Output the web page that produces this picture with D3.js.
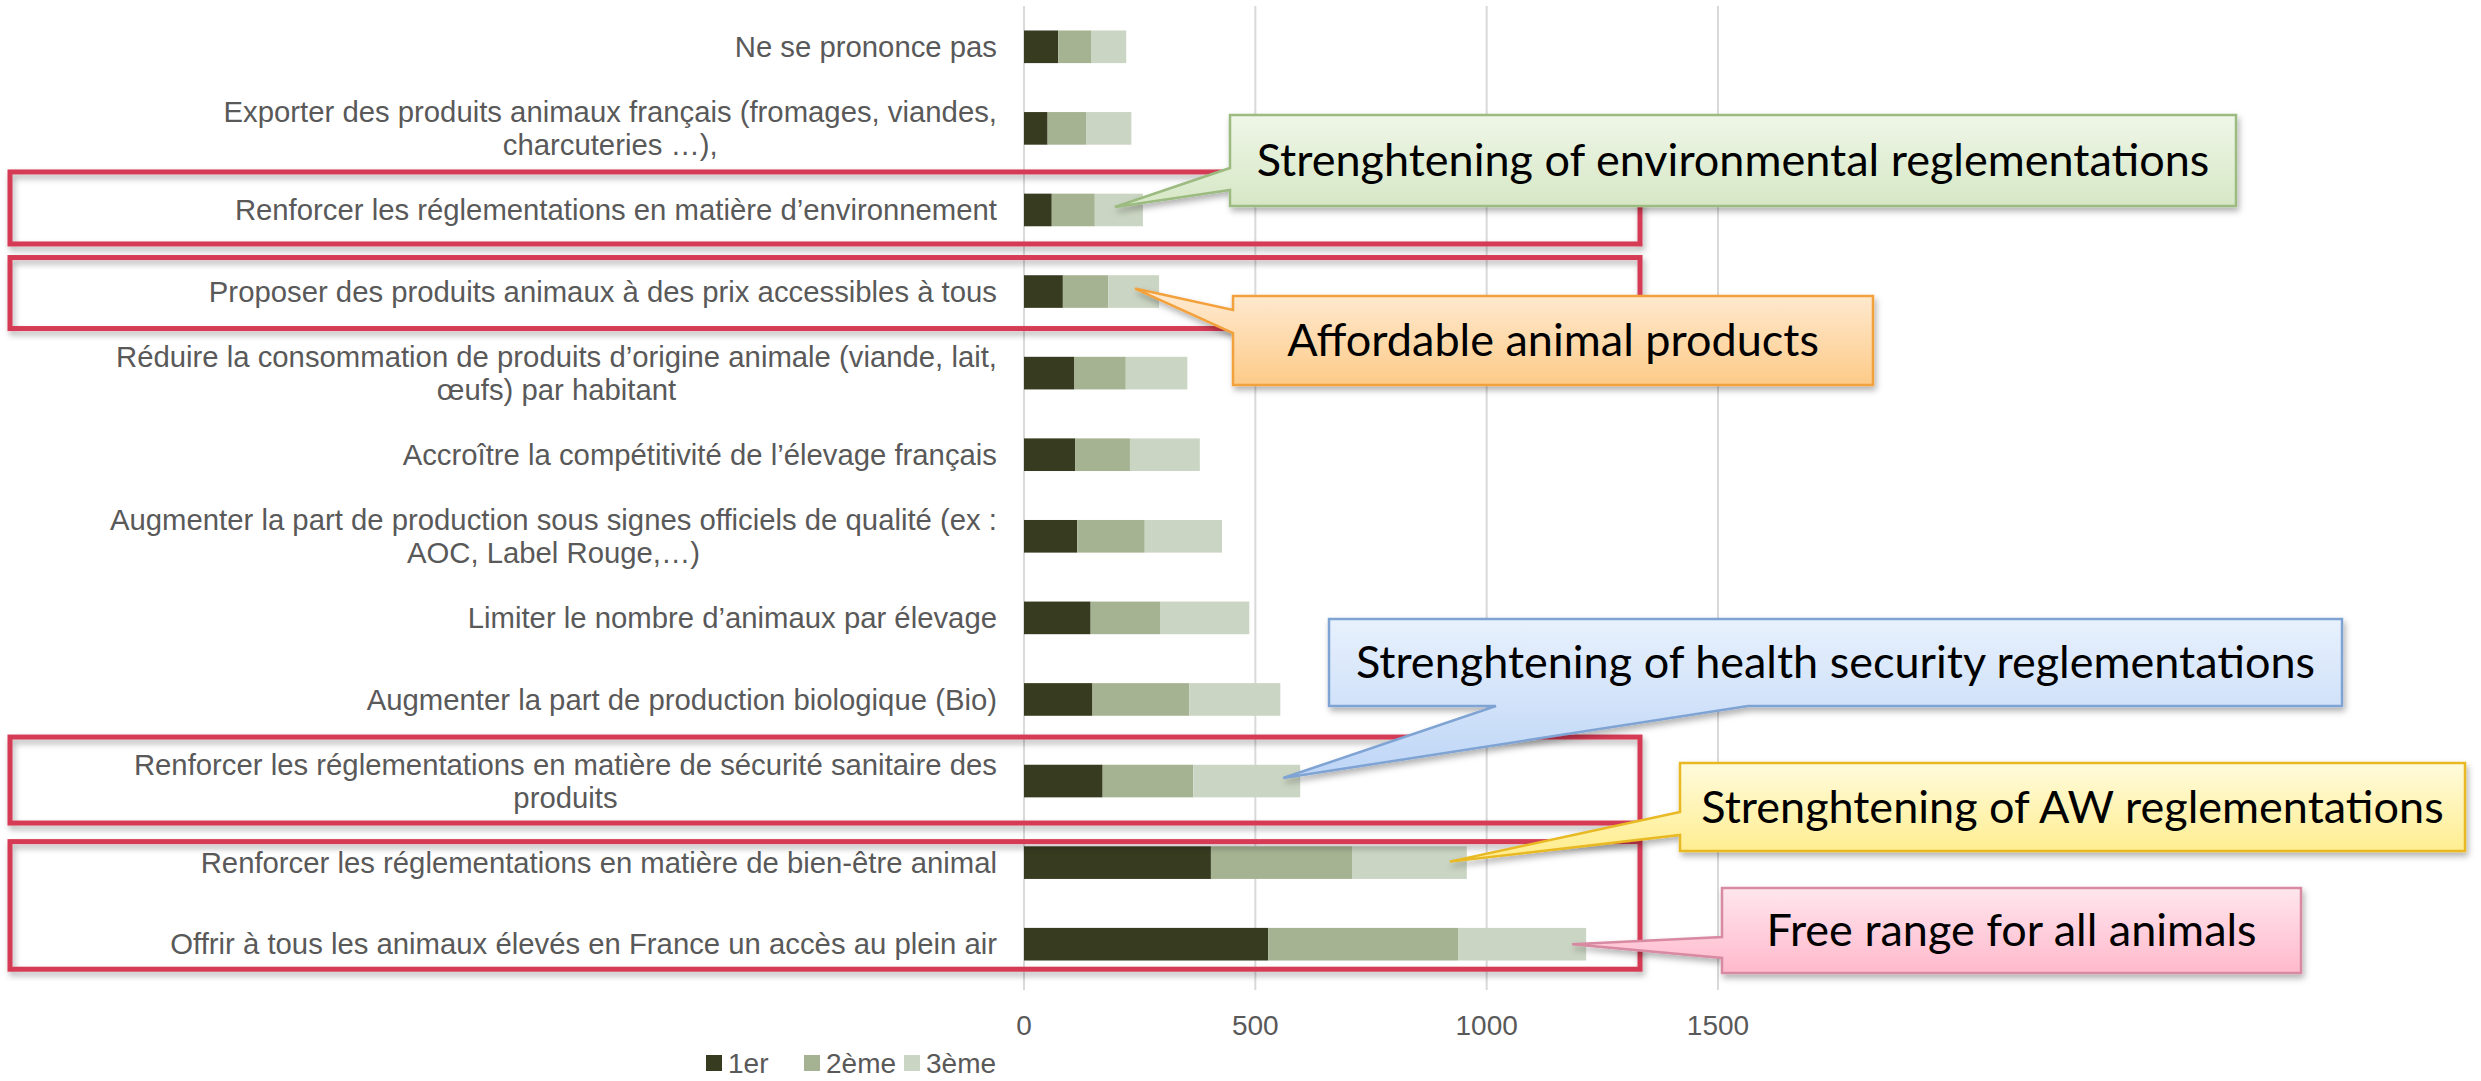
<!DOCTYPE html>
<meta charset="utf-8">
<html>
<style>
  body { margin: 0; background: #fff; }
  text { font-family: "Liberation Sans", Arial, sans-serif; }
</style>
<body>
<div id="chartContainer"></div>
<script src="https://d3js.org/d3.v7.min.js"></script>
<script type="text/javascript">
  // categories top to bottom, "\n" marks where the label wraps
  var categories = [
    "Ne se prononce pas",
    "Exporter des produits animaux français (fromages, viandes,\ncharcuteries …),",
    "Renforcer les réglementations en matière d’environnement",
    "Proposer des produits animaux à des prix accessibles à tous",
    "Réduire la consommation de produits d’origine animale (viande, lait,\nœufs) par habitant",
    "Accroître la compétitivité de l’élevage français",
    "Augmenter la part de production sous signes officiels de qualité (ex :\nAOC, Label Rouge,…)",
    "Limiter le nombre d’animaux par élevage",
    "Augmenter la part de production biologique (Bio)",
    "Renforcer les réglementations en matière de sécurité sanitaire des\nproduits",
    "Renforcer les réglementations en matière de bien-être animal",
    "Offrir à tous les animaux élevés en France un accès au plein air"
  ];
  var seriesNames = ["1er", "2ème", "3ème"];
  var premier = [74, 51, 60, 84, 109, 111, 115, 144, 148, 170, 404, 528];
  var deuxieme = [72, 83, 93, 98, 111, 118, 146, 150, 209, 196, 305, 411];
  var troisieme = [75, 98, 104, 110, 133, 151, 167, 193, 197, 231, 248, 276];
  var xTicks = [0, 500, 1000, 1500];
  var colors = ["#373c20", "#a6b392", "#cbd5c3"];

  // highlighted rows (red frames) and the callouts
  var frames = [
    { first: 2, last: 2, padTop: 38, padBottom: 34 },
    { first: 3, last: 3, padTop: 34, padBottom: 37 },
    { first: 9, last: 9, padTop: 44, padBottom: 42 },
    { first: 10, last: 11, padTop: 21, padBottom: 25 }
  ];
  var callouts = [
    { text: "Strenghtening of environmental reglementations", row: 2, back: 28, dy: -3,
      box: [1230, 115, 1006, 91], side: "left", base: [168, 190],
      top: "#eff6e8", bottom: "#d6e7c5", stroke: "#9bbb80" },
    { text: "Affordable animal products", row: 3, back: 24, dy: -3,
      box: [1233, 296, 640, 89], side: "left", base: [310, 333],
      top: "#ffebd4", bottom: "#fdcb88", stroke: "#f3a13c" },
    { text: "Strenghtening of health security reglementations", row: 9, back: 17, dy: -3,
      box: [1329, 619, 1013, 87], side: "bottom", base: [1496, 1748],
      top: "#e8f1fd", bottom: "#bdd5f6", stroke: "#7fa3d3" },
    { text: "Strenghtening of AW reglementations", row: 10, back: 17, dy: -1,
      box: [1680, 763, 785, 88], side: "left", base: [812, 835],
      top: "#fffbdc", bottom: "#ffec88", stroke: "#e8b923" },
    { text: "Free range for all animals", row: 11, back: 14, dy: 0,
      box: [1722, 888, 579, 85], side: "left", base: [937, 958],
      top: "#ffe6ee", bottom: "#ffb9cc", stroke: "#d88aa3" }
  ];

  var width = 2481, height = 1081;
  var svg = d3.select("#chartContainer").append("svg")
    .attr("width", width).attr("height", height);

  var defs = svg.append("defs");
  defs.append("filter").attr("id", "shadow")
    .attr("x", "-5%").attr("y", "-20%").attr("width", "115%").attr("height", "150%")
    .append("feDropShadow")
    .attr("dx", 2).attr("dy", 4).attr("stdDeviation", 3)
    .attr("flood-color", "#000").attr("flood-opacity", 0.3);

  var x = d3.scaleLinear().domain([0, 1500]).range([1024, 1718]);
  var y = d3.scaleBand().domain(d3.range(categories.length))
    .range([6, 985]).paddingInner(0.6).paddingOuter(0.3);

  var rows = categories.map(function (c, i) {
    return { label: c, values: [premier[i], deuxieme[i], troisieme[i]] };
  });
  var stack = d3.stack().keys([0, 1, 2]).value(function (d, k) { return d.values[k]; });
  var layers = stack(rows);

  // gridlines
  svg.append("g").selectAll("line").data(xTicks).join("line")
    .attr("x1", function (d) { return x(d); }).attr("x2", function (d) { return x(d); })
    .attr("y1", 6).attr("y2", 990)
    .attr("stroke", "#d9d9d9").attr("stroke-width", 2);

  // tick labels
  svg.append("g").selectAll("text").data(xTicks).join("text")
    .attr("x", function (d) { return x(d); }).attr("y", 1025).attr("dy", "0.35em")
    .attr("text-anchor", "middle").attr("font-size", 28).attr("fill", "#595959")
    .text(function (d) { return d; });

  // stacked bars
  svg.append("g").selectAll("g").data(layers).join("g")
    .attr("fill", function (d, i) { return colors[i]; })
    .selectAll("rect").data(function (d) { return d; }).join("rect")
    .attr("x", function (d) { return x(d[0]); })
    .attr("y", function (d, i) { return y(i); })
    .attr("width", function (d) { return x(d[1]) - x(d[0]); })
    .attr("height", y.bandwidth());

  // category labels: lines centred on each other, block right aligned
  var labelRight = 997, lineGap = 33;
  rows.forEach(function (r, i) {
    var lines = r.label.split("\n");
    var cy = y(i) + y.bandwidth() / 2;
    var g = svg.append("g");
    var t = g.selectAll("text").data(lines).join("text")
      .attr("y", function (d, k) { return cy + (k - (lines.length - 1) / 2) * lineGap; })
      .attr("dy", "0.35em").attr("font-size", 29.3).attr("fill", "#595959")
      .attr("text-anchor", "middle")
      .text(function (d) { return d; });
    var w = d3.max(t.nodes(), function (n) { return n.getComputedTextLength(); });
    t.attr("x", labelRight - w / 2);
  });

  // red frames around the highlighted answers
  svg.append("g").selectAll("rect").data(frames).join("rect")
    .attr("x", 10).attr("width", 1630)
    .attr("y", function (d) { return y(d.first) + y.bandwidth() / 2 - d.padTop; })
    .attr("height", function (d) {
      return y(d.last) - y(d.first) + d.padTop + d.padBottom;
    })
    .attr("fill", "none").attr("stroke", "#d63b54").attr("stroke-width", 5)
    .attr("filter", "url(#shadow)");

  // callouts
  callouts.forEach(function (c, i) {
    var total = premier[c.row] + deuxieme[c.row] + troisieme[c.row];
    var tx = x(total) - c.back, ty = y(c.row) + y.bandwidth() / 2 + c.dy;
    var bx = c.box[0], by = c.box[1], bw = c.box[2], bh = c.box[3];
    var p;
    if (c.side === "left") {
      p = [[bx, by], [bx + bw, by], [bx + bw, by + bh], [bx, by + bh],
           [bx, c.base[1]], [tx, ty], [bx, c.base[0]]];
    } else {
      p = [[bx, by], [bx + bw, by], [bx + bw, by + bh], [c.base[1], by + bh],
           [tx, ty], [c.base[0], by + bh], [bx, by + bh]];
    }
    var grad = defs.append("linearGradient").attr("id", "grad" + i)
      .attr("x1", 0).attr("y1", 0).attr("x2", 0).attr("y2", 1);
    grad.append("stop").attr("offset", 0).attr("stop-color", c.top);
    grad.append("stop").attr("offset", 1).attr("stop-color", c.bottom);

    svg.append("path")
      .attr("d", "M" + p.join("L") + "Z")
      .attr("fill", "url(#grad" + i + ")")
      .attr("stroke", c.stroke).attr("stroke-width", 2.5)
      .attr("stroke-linejoin", "miter")
      .attr("filter", "url(#shadow)");
    svg.append("text")
      .attr("x", bx + bw / 2).attr("y", by + bh / 2).attr("dy", "0.35em")
      .attr("text-anchor", "middle")
      .style("font-family", "Lato, 'Open Sans', sans-serif")
      .attr("font-size", 45).attr("fill", "#000")
      .text(c.text);
  });

  // legend
  var legendX = [706, 804, 904];
  var legend = svg.append("g").selectAll("g").data(seriesNames).join("g")
    .attr("transform", function (d, i) { return "translate(" + legendX[i] + ",1063)"; });
  legend.append("rect").attr("x", 0).attr("y", -8).attr("width", 16).attr("height", 16)
    .attr("fill", function (d, i) { return colors[i]; });
  legend.append("text").attr("x", 22).attr("dy", "0.35em")
    .attr("font-size", 28).attr("fill", "#595959")
    .text(function (d) { return d; });
</script>
</body>
</html>
